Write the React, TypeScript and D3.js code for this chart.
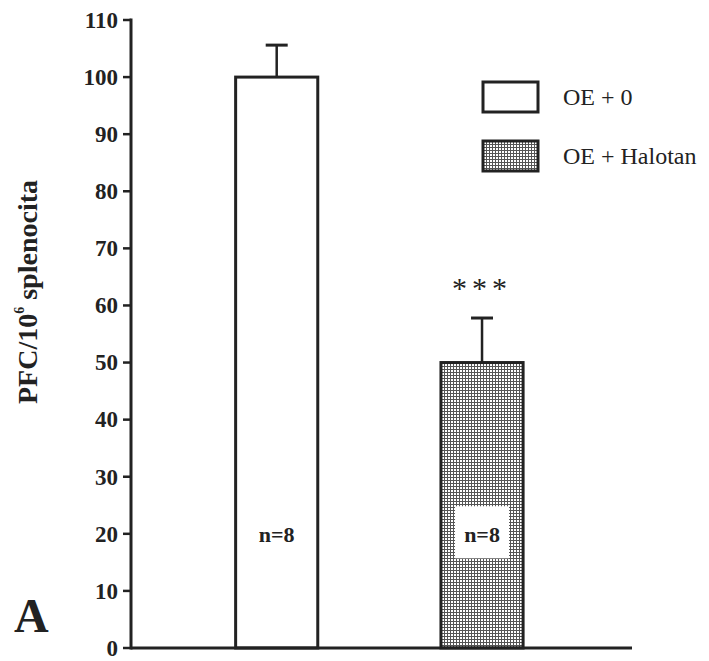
import React from "react";
import * as d3 from "d3";

const groups = ["OE + 0", "OE + Halotan"];
const means = [100, 50];
const errors = [5.6, 7.8];
const sampleSizes = ["n=8", "n=8"];
const significance = ["", "***"];
const yTicks = [0, 10, 20, 30, 40, 50, 60, 70, 80, 90, 100, 110];

const W = 709;
const H = 661;
const FONT = "Liberation Serif, Times New Roman, serif";
const INK = "#222";

export default function App() {
  const x = d3
    .scaleBand<string>()
    .domain(groups)
    .range([131, 632])
    .paddingInner(0.6)
    .paddingOuter(0.52)
    .align(0.49);
  const y = d3.scaleLinear().domain([0, 110]).range([648, 20]);
  const bw = x.bandwidth();

  return (
    <svg
      width={W}
      height={H}
      style={{ position: "absolute", left: 0, top: 0, background: "#fff", fontFamily: FONT }}
    >
      <defs>
        <pattern id="grid" width={3} height={3} patternUnits="userSpaceOnUse">
          <rect width={3} height={3} fill="#fff" />
          <path d="M0 0.5H3M0.5 0V3" stroke="#555" strokeWidth={1} />
        </pattern>
      </defs>
      <rect width={W} height={H} fill="#fff" />

      {groups.map((g, i) => {
        const x0 = x(g)!;
        const cx = x0 + bw / 2;
        const yTop = y(means[i]);
        const yErr = y(means[i] + errors[i]);
        return (
          <g key={g}>
            <line x1={cx} x2={cx} y1={yTop} y2={yErr} stroke={INK} strokeWidth={2.5} />
            <line x1={cx - 11} x2={cx + 11} y1={yErr} y2={yErr} stroke={INK} strokeWidth={3} />
            <rect
              x={x0}
              y={yTop}
              width={bw}
              height={y(0) - yTop}
              fill={i === 0 ? "#fff" : "url(#grid)"}
              stroke={INK}
              strokeWidth={3}
            />
            {i === 1 && (
              <rect x={cx - 27} y={y(25) + 1} width={54} height={52} fill="#fff" />
            )}
            <text
              x={cx}
              y={y(20) + 8}
              textAnchor="middle"
              fontWeight="bold"
              fontSize={22}
              fontFamily={FONT}
              fill={INK}
            >
              {sampleSizes[i]}
            </text>
            {significance[i] && (
              <text
                x={cx}
                y={yErr - 20}
                textAnchor="middle"
                fontSize={30}
                letterSpacing={5}
                fontFamily={FONT}
                fill={INK}
              >
                {significance[i]}
              </text>
            )}
          </g>
        );
      })}

      <line x1={131} x2={131} y1={y(110) - 1.5} y2={y(0) + 1.5} stroke={INK} strokeWidth={3} />
      {yTicks.map((t) => (
        <g key={t}>
          <line x1={123} x2={131} y1={y(t)} y2={y(t)} stroke={INK} strokeWidth={2.5} />
          <text
            x={118}
            y={y(t)}
            dy="0.34em"
            textAnchor="end"
            fontWeight="bold"
            fontSize={23}
            fontFamily={FONT}
            fill={INK}
          >
            {t}
          </text>
        </g>
      ))}
      <line x1={131} x2={632} y1={y(0)} y2={y(0)} stroke={INK} strokeWidth={3} />

      <text
        transform={`translate(37, ${(y(0) + y(110)) / 2 - 42}) rotate(-90)`}
        textAnchor="middle"
        fontWeight="bold"
        fontSize={28}
        fontFamily={FONT}
        fill={INK}
      >
        PFC/10
        <tspan fontSize={14} dy={-13}>6</tspan>
        <tspan dy={13}> splenocita</tspan>
      </text>

      <text x={14} y={632} fontWeight="bold" fontSize={48} fontFamily={FONT} fill={INK}>
        A
      </text>

      {groups.map((g, i) => (
        <g key={"lg" + g} transform={`translate(483, ${82 + i * 59})`}>
          <rect
            width={55}
            height={30}
            fill={i === 0 ? "#fff" : "url(#grid)"}
            stroke={INK}
            strokeWidth={3}
          />
          <text x={80} y={15} dy="0.35em" fontSize={24} fontFamily={FONT} fill={INK}>
            {g}
          </text>
        </g>
      ))}
    </svg>
  );
}
